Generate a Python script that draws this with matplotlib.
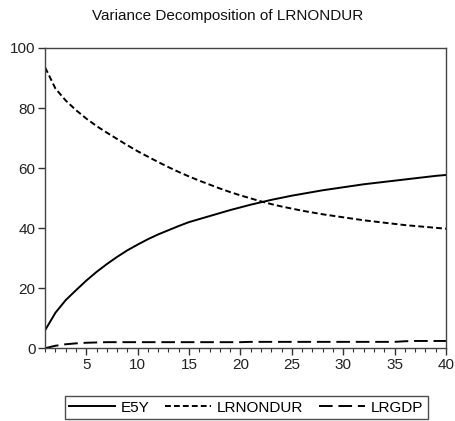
import matplotlib
matplotlib.use("Agg")
import matplotlib.pyplot as plt
from matplotlib.ticker import MultipleLocator

plt.rcParams['font.family'] = ['Liberation Sans', 'DejaVu Sans']

periods = list(range(1, 41))
e5y = [6.0, 11.8, 16.0, 19.3, 22.5, 25.4, 28.0, 30.4, 32.6, 34.5,
       36.3, 37.9, 39.3, 40.7, 42.0, 43.0, 44.0, 45.0, 46.0, 46.9,
       47.8, 48.6, 49.4, 50.1, 50.8, 51.4, 52.0, 52.6, 53.1, 53.6,
       54.1, 54.6, 55.0, 55.4, 55.8, 56.2, 56.6, 57.0, 57.4, 57.7]
lrnondur = [93.5, 86.5, 82.5, 79.3, 76.5, 74.0, 71.8, 69.7, 67.6, 65.6,
            63.8, 62.0, 60.3, 58.7, 57.2, 55.8, 54.5, 53.2, 52.0, 50.9,
            49.9, 48.9, 48.0, 47.2, 46.5, 45.8, 45.2, 44.6, 44.1, 43.6,
            43.1, 42.6, 42.2, 41.8, 41.4, 41.0, 40.7, 40.4, 40.1, 39.8]
lrgdp = [0.0, 0.8, 1.3, 1.6, 1.8, 1.9, 2.0, 2.0, 2.0, 2.0,
         2.0, 2.0, 2.0, 2.0, 2.0, 2.0, 2.0, 2.0, 2.0, 2.0,
         2.1, 2.1, 2.1, 2.1, 2.1, 2.1, 2.1, 2.1, 2.1, 2.1,
         2.1, 2.1, 2.1, 2.1, 2.1, 2.3, 2.4, 2.4, 2.4, 2.4]
series_names = ["E5Y", "LRNONDUR", "LRGDP"]
title = "Variance Decomposition of LRNONDUR"

fig = plt.figure(figsize=(4.56, 4.21), dpi=100)
ax = fig.add_axes([0.099, 0.173, 0.879, 0.713])

lw = 1.4
ax.plot(periods, e5y, color='black', lw=lw, linestyle='-', label=series_names[0])
ax.plot(periods, lrnondur, color='black', lw=lw, linestyle=(0, (3, 1.6)), label=series_names[1])
ax.plot(periods, lrgdp, color='black', lw=lw, linestyle=(0, (7, 3)), label=series_names[2])

ax.set_xlim(1, 40)
ax.set_ylim(0, 100)
ax.xaxis.set_major_locator(MultipleLocator(5))
ax.xaxis.set_minor_locator(MultipleLocator(1))
ax.yaxis.set_major_locator(MultipleLocator(20))
ax.tick_params(axis='both', which='major', direction='out', length=5, width=1,
               labelsize=11, colors='#333333', labelcolor='#222222', pad=2)
ax.tick_params(axis='x', which='minor', direction='out', length=3, width=0.8, colors='#333333')
for s in ax.spines.values():
    s.set_color('#444444')
    s.set_linewidth(1.0)

fig.text(0.5, 0.962, title, ha='center', va='center', fontsize=11, color='#111111')

leg = fig.legend(loc='center', bbox_to_anchor=(0.54, 0.032), ncol=3, frameon=True,
                 fontsize=11, handlelength=3.0, columnspacing=1.0, handletextpad=0.4,
                 borderpad=0.3, fancybox=False, edgecolor='#222222')
leg.get_frame().set_linewidth(1.0)

fig.savefig("out.png", dpi=100)
